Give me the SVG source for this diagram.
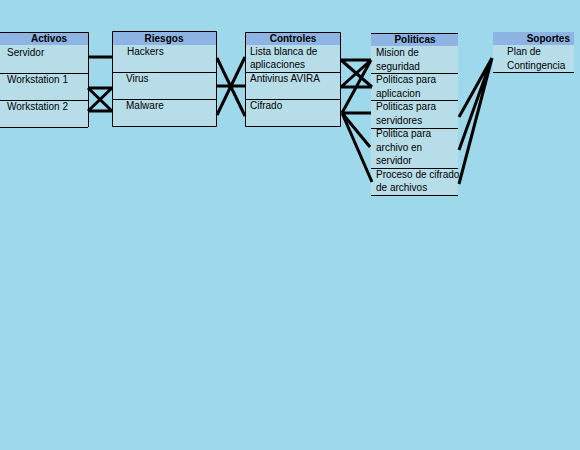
<svg xmlns="http://www.w3.org/2000/svg" width="580" height="450" viewBox="0 0 580 450">
<style>
text{font-family:"Liberation Sans",Arial,sans-serif;font-size:10px;fill:#000}
.h{font-weight:bold;text-anchor:middle}
.cell{fill:#B7DEE8}
.hdr{fill:#8DB4E2}
.b{stroke:#000;stroke-width:1;fill:none}
.c{stroke:#000;stroke-width:3;fill:none;stroke-linecap:butt}
</style>
<rect width="580" height="450" fill="#9DD9EA"/>
<g id="activos">
<rect class="cell" x="0" y="32" width="88" height="95"/>
<rect class="hdr" x="0" y="32" width="88" height="13"/>
<path class="b" d="M0 32.5H88.5V127M0 73.5H88M0 100.5H88M0 127.5H88"/>
<text class="h" x="49" y="42">Activos</text>
<text x="7" y="56">Servidor</text>
<text x="7" y="83">Workstation 1</text>
<text x="7" y="110">Workstation 2</text>
</g>
<g id="riesgos">
<rect class="cell" x="112" y="31" width="105" height="95"/>
<rect class="hdr" x="112" y="31" width="105" height="14"/>
<path class="b" d="M112.5 31.5H216.5V126.5H112.5ZM112 72.5H217M112 99.5H217"/>
<text class="h" x="164" y="42">Riesgos</text>
<text x="127" y="55">Hackers</text>
<text x="126" y="82">Virus</text>
<text x="126" y="109">Malware</text>
</g>
<g id="controles">
<rect class="cell" x="245" y="32" width="96" height="95"/>
<rect class="hdr" x="245" y="32" width="96" height="13"/>
<path class="b" d="M245.5 32.5H340.5V126.5H245.5ZM245 72.5H341M245 99.5H341"/>
<text class="h" x="293" y="42">Controles</text>
<text x="250" y="55">Lista blanca de</text>
<text x="250" y="68">aplicaciones</text>
<text x="250" y="82">Antivirus AVIRA</text>
<text x="250" y="109">Cifrado</text>
</g>
<g id="politicas">
<rect class="cell" x="371" y="33" width="87" height="162"/>
<rect class="hdr" x="371" y="33" width="87" height="13"/>
<path class="b" d="M371 33.5H458M371 73.5H458M371 100.5H458M371 128.5H458M371 168.5H458M371 195.5H458"/>
<text class="h" x="415" y="43">Politicas</text>
<text x="376" y="56">Mision de</text>
<text x="376" y="70">seguridad</text>
<text x="376" y="83">Politicas para</text>
<text x="376" y="97">aplicacion</text>
<text x="376" y="110">Politicas para</text>
<text x="376" y="124">servidores</text>
<text x="376" y="137">Politica para</text>
<text x="376" y="151">archivo en</text>
<text x="376" y="164">servidor</text>
<text x="376" y="178">Proceso de cifrado</text>
<text x="376" y="191">de archivos</text>
</g>
<g id="soportes">
<rect class="cell" x="493" y="45" width="81" height="27"/>
<rect class="hdr" x="493" y="32" width="81" height="13"/>
<path class="b" d="M493 72.5H574"/>
<text x="570" y="42" style="font-weight:bold;text-anchor:end">Soportes</text>
<text x="507" y="55">Plan de</text>
<text x="507" y="69">Contingencia</text>
</g>
<g id="connectors">
<path class="c" d="M88 57H112"/>
<path class="c" d="M88 88H112M88 111H112M88 88L112 111M88 111L112 88"/>
<path class="c" d="M217 58L245 116M217 115L245 57M217 86H245"/>
<path class="c" d="M341 60H371M341 60L372 87M341 87L371 60M341 87H372M342 113L371 60"/>
<path class="c" d="M342 113H371M342 113L370 147M342 113L372 182"/>
<path class="c" d="M492 58L459 117M492 58L459 150M492 58L459 184"/>
</g>
</svg>
